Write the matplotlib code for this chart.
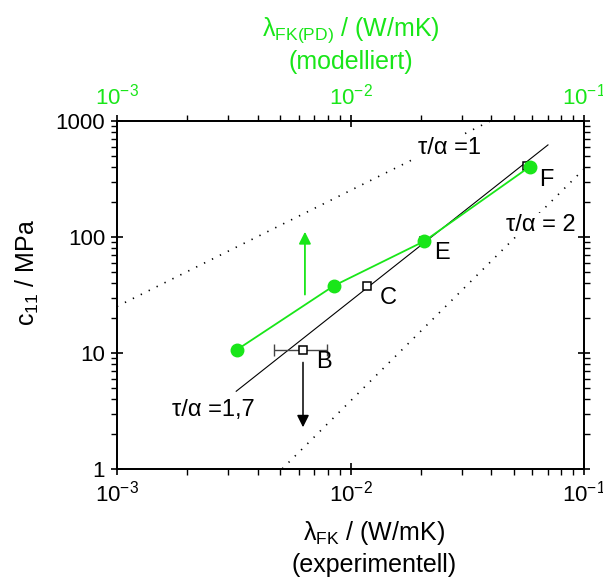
import numpy as np
import matplotlib
matplotlib.use("Agg")
import matplotlib.pyplot as plt
from matplotlib.ticker import LogLocator, FixedLocator, NullFormatter

plt.rcParams['font.family'] = ['Liberation Sans', 'DejaVu Sans']
plt.rcParams['mathtext.fontset'] = 'custom'
plt.rcParams['mathtext.rm'] = 'Liberation Sans'
plt.rcParams['mathtext.it'] = 'Liberation Sans:italic'
plt.rcParams['mathtext.bf'] = 'Liberation Sans:bold'

GREEN = '#19e619'

# experimental points (black squares)
exp_labels = ['B', 'C', 'E', 'F']
exp_lambda = [0.00627, 0.0118, 0.0206, 0.0568]
exp_c11 = [10.7, 38.0, 93.0, 410.0]
err_B_low = 0.00470
err_B_high = 0.00792

# modelled points (green circles)
mod_lambda = [0.00327, 0.00849, 0.0207, 0.0587]
mod_c11 = [10.7, 38.0, 92.0, 405.0]

# tau/alpha = 1.7 fitted line (two end points)
fit_lambda = [0.00324, 0.0701]
fit_c11 = [4.68, 622.0]

# tau/alpha = 1 and 2 reference lines: c11 = k * lambda^n
ref1_k, ref1_n = 25200.0, 1.0
ref2_k, ref2_n = 38600.0, 2.0

# arrows
green_arrow_x, green_arrow_y = 0.00638, [31.9, 111.0]
black_arrow_x, black_arrow_y = 0.00626, [8.3, 2.29]

xlim = [1e-3, 1e-1]
ylim = [1, 1000]
xticks = [1e-3, 1e-2, 1e-1]
xticklabels = [r'10$^{\mathregular{-3}}$', r'10$^{\mathregular{-2}}$', r'10$^{\mathregular{-1}}$']
yticks = [1, 10, 100, 1000]
yticklabels = ['1', '10', '100', '1000']

TICK_FS = 16
LABEL_FS = 18
ANN_FS = 17

fig = plt.figure(figsize=(6.03, 5.86), dpi=100)
ax = fig.add_axes([117/603, 1-469/586, 467/603, 348/586])
ax.set_xscale('log')
ax.set_yscale('log')
ax.set_xlim(xlim)
ax.set_ylim(ylim)

# reference dotted lines
xx = np.logspace(-3, -1, 200)
for k, n in [(ref1_k, ref1_n), (ref2_k, ref2_n)]:
    ax.plot(xx, k * xx**n, color='black', lw=1.2, linestyle=(0, (0.8, 4.5)), zorder=1)

# fit line
ax.plot(fit_lambda, fit_c11, color='black', lw=0.8, zorder=2)

# error bar on B
ax.errorbar([exp_lambda[0]], [exp_c11[0]],
            xerr=[[exp_lambda[0]-err_B_low], [err_B_high-exp_lambda[0]]],
            fmt='none', ecolor='#444444', elinewidth=1.0, capsize=4, capthick=1.0, zorder=3)

# experimental squares
ax.plot(exp_lambda, exp_c11, linestyle='none', marker='s', ms=6, mfc='white',
        mec='black', mew=1.1, zorder=4)

# green modelled
ax.plot(mod_lambda, mod_c11, color=GREEN, lw=1.3, marker='o', ms=9,
        markeredgecolor=GREEN, zorder=5)

# arrows
ax.annotate('', xy=(green_arrow_x, green_arrow_y[1]), xytext=(green_arrow_x, green_arrow_y[0]),
            arrowprops=dict(arrowstyle='-|>', color=GREEN, lw=1.3, mutation_scale=18,
                            shrinkA=0, shrinkB=0))
ax.annotate('', xy=(black_arrow_x, black_arrow_y[1]), xytext=(black_arrow_x, black_arrow_y[0]),
            arrowprops=dict(arrowstyle='-|>', color='black', lw=1.1, mutation_scale=18,
                            shrinkA=0, shrinkB=0))

# point labels
lab_pos = {'B': (0.443, 0.307), 'C': (0.580, 0.491), 'E': (0.696, 0.621), 'F': (0.919, 0.830)}
for lab in exp_labels:
    ax.text(*lab_pos[lab], lab, transform=ax.transAxes, fontsize=ANN_FS,
            ha='center', va='center', zorder=6)

bb = dict(facecolor='white', edgecolor='none', pad=1)
ax.text(0.713, 0.922, 'τ/α =1', transform=ax.transAxes, fontsize=ANN_FS,
        ha='center', va='center', bbox=bb, zorder=3)
ax.text(0.908, 0.701, 'τ/α = 2', transform=ax.transAxes, fontsize=ANN_FS,
        ha='center', va='center', bbox=bb, zorder=3)
ax.text(0.206, 0.170, 'τ/α =1,7', transform=ax.transAxes, fontsize=ANN_FS,
        ha='center', va='center', zorder=3)

# ticks
ax.xaxis.set_major_locator(FixedLocator(xticks))
ax.set_xticklabels(xticklabels)
ax.yaxis.set_major_locator(FixedLocator(yticks))
ax.set_yticklabels(yticklabels)
ax.xaxis.set_minor_locator(LogLocator(base=10, subs=np.arange(2, 10)))
ax.yaxis.set_minor_locator(LogLocator(base=10, subs=np.arange(2, 10)))
ax.xaxis.set_minor_formatter(NullFormatter())
ax.yaxis.set_minor_formatter(NullFormatter())
ax.tick_params(which='major', direction='inout', length=9, width=1.2, labelsize=TICK_FS, pad=4)
ax.tick_params(which='minor', direction='out', length=4, width=1.0)
ax.tick_params(axis='y', which='both', right=True)
for sp in ax.spines.values():
    sp.set_linewidth(1.3)

ax.set_xlabel('λ$_{\\mathregular{FK}}$ / (W/mK)\n(experimentell)', fontsize=LABEL_FS,
              linespacing=1.3)
ax.xaxis.set_label_coords(0.55, -0.145)
ax.set_ylabel('c$_{\\mathregular{11}}$ / MPa', fontsize=LABEL_FS)
ax.yaxis.set_label_coords(-0.163, 0.566)

# top axis (modelled)
ax2 = ax.twiny()
ax2.set_xscale('log')
ax2.set_xlim(xlim)
ax2.xaxis.set_major_locator(FixedLocator(xticks))
ax2.set_xticklabels(xticklabels)
ax2.xaxis.set_minor_locator(LogLocator(base=10, subs=np.arange(2, 10)))
ax2.xaxis.set_minor_formatter(NullFormatter())
ax2.tick_params(which='major', direction='inout', length=9, width=1.2, labelsize=TICK_FS,
                labelcolor=GREEN, pad=4)
ax2.tick_params(which='minor', direction='out', length=4, width=1.0)
ax2.set_xlabel('λ$_{\\mathregular{FK(PD)}}$ / (W/mK)\n(modelliert)', fontsize=LABEL_FS,
               color=GREEN, labelpad=10, linespacing=1.3)
for sp in ax2.spines.values():
    sp.set_linewidth(1.3)

fig.savefig('out.png', dpi=100)
